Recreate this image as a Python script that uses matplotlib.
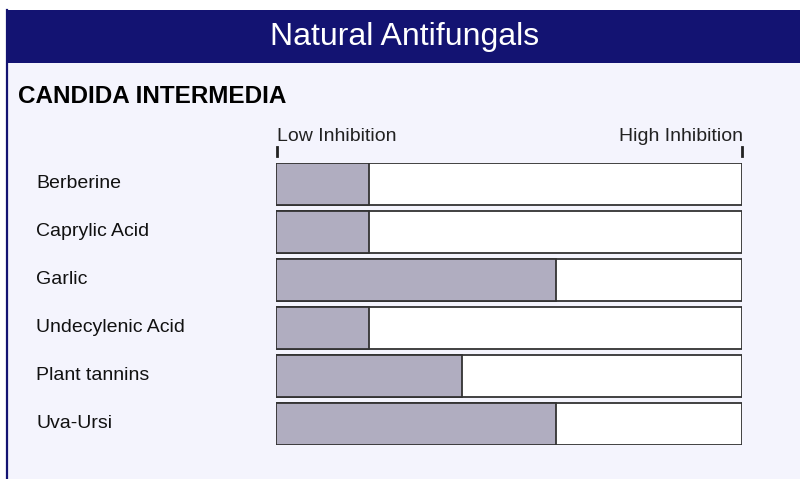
# Natural antifungals: inhibition of Candida intermedia
import matplotlib.pyplot as plt
import matplotlib.transforms as mtransforms
from matplotlib.patches import Rectangle

plt.rcParams['font.family'] = ['Liberation Sans', 'DejaVu Sans']

title = "Natural Antifungals"
subtitle = "CANDIDA INTERMEDIA"
agents = ["Berberine", "Caprylic Acid", "Garlic", "Undecylenic Acid",
          "Plant tannins", "Uva-Ursi"]
inhibition = [1, 1, 3, 1, 2, 3]     # on a 0..5 scale
scale_max = 5
scale_labels = ["Low Inhibition", "High Inhibition"]

NAVY = "#131372"
PANEL = "#f4f4fd"
FILL = "#b0adc0"
EDGE = "#333333"

W, H = 800, 479
fig = plt.figure(figsize=(W / 100, H / 100), dpi=100, facecolor="white")

def px(x, y):
    # pixel (from top-left) -> figure fraction
    return x / W, 1 - y / H

# panel, header band and left border
fig.patches.append(Rectangle(px(6, 479), 794 / W, 469 / H, transform=fig.transFigure,
                             facecolor=PANEL, edgecolor="none", zorder=0))
fig.patches.append(Rectangle(px(6, 63), 794 / W, 53 / H, transform=fig.transFigure,
                             facecolor=NAVY, edgecolor="none", zorder=1))
fig.lines.append(plt.Line2D([6.5 / W, 6.5 / W], [0, 1 - 10 / H], transform=fig.transFigure,
                            color=NAVY, lw=1.6, zorder=2))

fig.text(*px(405, 37), title, color="white", fontsize=23, ha="center", va="center")
fig.text(*px(18, 97), subtitle, color="black", fontsize=17.5, fontweight="bold",
         ha="left", va="center")

# bar area
l, b = px(276, 445)
ax = fig.add_axes([l, b, 466 / W, 282 / H])
ax.set_zorder(5)
ax.set_facecolor("none")
ax.set_xlim(0, scale_max)
ax.set_ylim(len(agents) - 0.5625, -0.4375)
ax.axis("off")

bh = 0.875
ax.barh(range(len(agents)), [scale_max] * len(agents), height=bh, color="white",
        edgecolor=EDGE, linewidth=1.3, zorder=1)
ax.barh(range(len(agents)), inhibition, height=bh, color=FILL,
        edgecolor=EDGE, linewidth=1.3, zorder=2)

lab_tr = mtransforms.blended_transform_factory(fig.transFigure, ax.transData)
for i, name in enumerate(agents):
    ax.text(36 / W, i, name, transform=lab_tr, fontsize=14, ha="left", va="center",
            color="#111111", clip_on=False)

# scale ends
fig.text(*px(277, 137), scale_labels[0], fontsize=14, ha="left", va="center",
         color="#222222")
fig.text(*px(743, 137), scale_labels[1], fontsize=14, ha="right", va="center",
         color="#222222")
for xp in (276.5, 742):
    fig.lines.append(plt.Line2D([xp / W, xp / W], [1 - 147 / H, 1 - 156 / H],
                                transform=fig.transFigure, color="#222222", lw=2))

fig.savefig("out.png", dpi=100, facecolor=fig.get_facecolor())
